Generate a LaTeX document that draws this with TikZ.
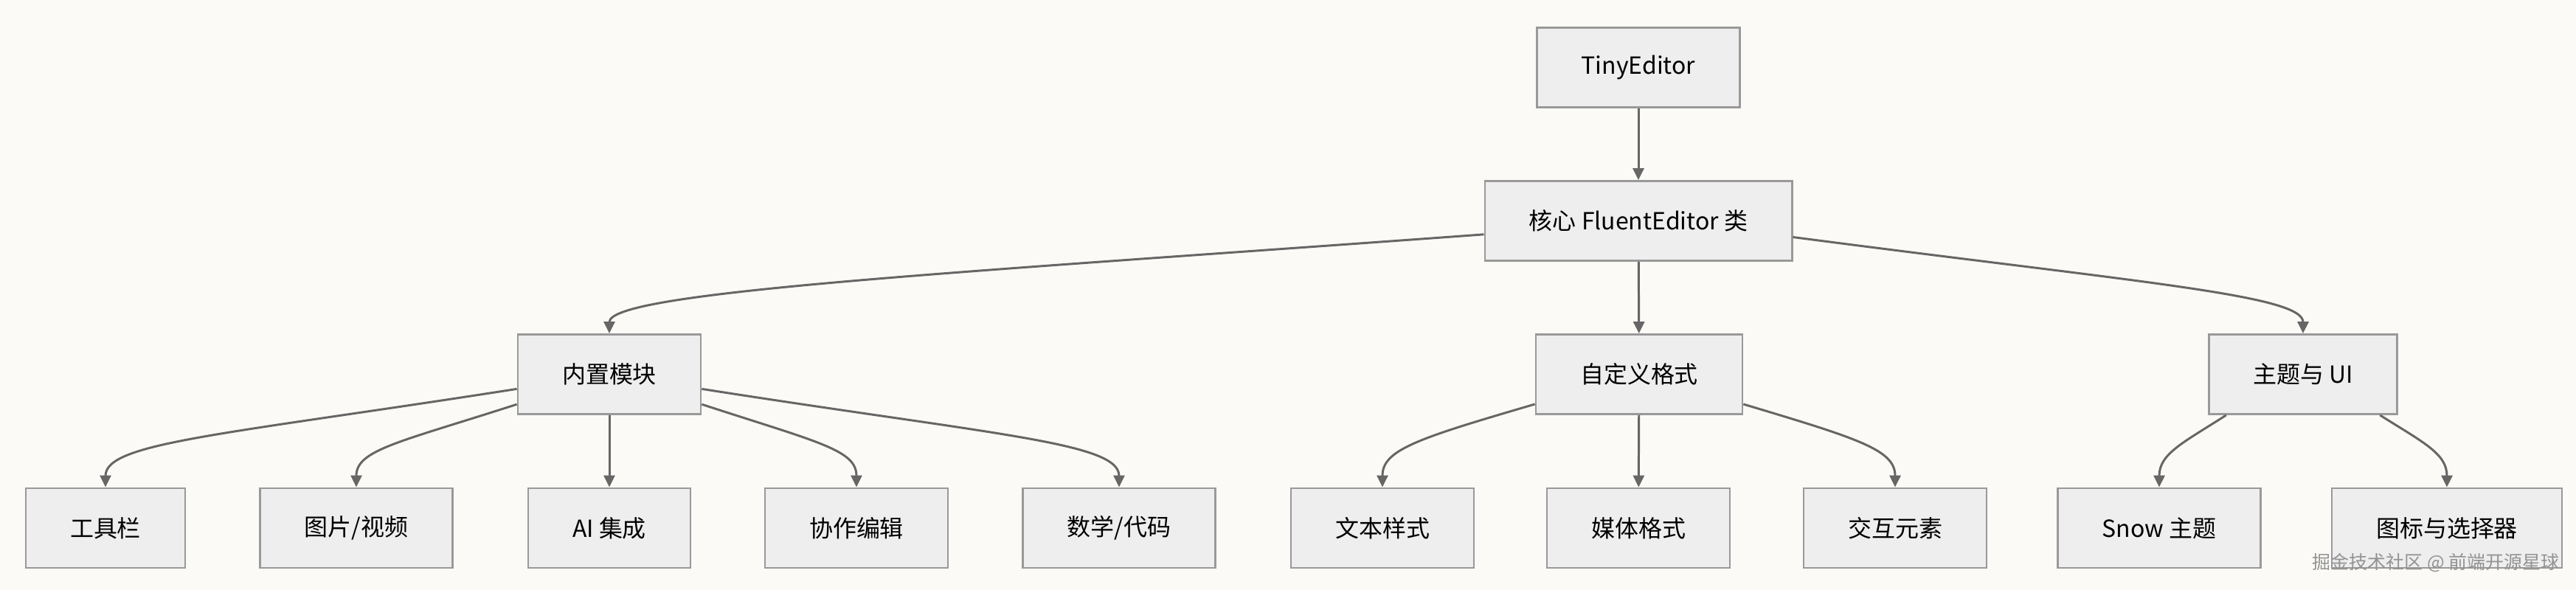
\documentclass[tikz,border=0pt]{standalone}
\usepackage{fontspec}
\newfontfamily\cjk{Noto Sans CJK SC}
\usetikzlibrary{arrows.meta}
\definecolor{canvas}{RGB}{251,250,246}
\definecolor{boxfill}{RGB}{238,238,238}
\definecolor{boxline}{RGB}{153,153,153}
\definecolor{edgeline}{RGB}{102,102,102}

\begin{document}
\begin{tikzpicture}[
  block/.style={draw=boxline, fill=boxfill, line width=0.8pt, minimum height=1.08cm, inner xsep=0.6cm, font=\cjk\fontsize{9.1}{11}\selectfont},
  credit/.style={font=\cjk\fontsize{7.1}{8}\selectfont, text=gray!85},
  arrow/.style={-{Triangle[length=1.6mm,width=1.5mm]}, line width=0.85pt, edgeline}]
\fill[canvas] (0,0) rectangle (34.92,-8);
\useasboundingbox (0,0) rectangle (34.92,-8);
% top levels
\node[block] (top) at (22.21,-0.915) {TinyEditor};
\node[block] (core) at (22.21,-2.995) {核心 FluentEditor 类};
\node[block] (builtin) at (8.26,-5.075) {内置模块};
\node[block] (custom) at (22.22,-5.075) {自定义格式};
\node[block] (theme) at (31.22,-5.075) {主题与 UI};
% leaves
\node[block] (toolbar) at (1.43,-7.16) {工具栏};
\node[block] (media) at (4.83,-7.16) {图片/视频};
\node[block] (ai) at (8.26,-7.16) {AI 集成};
\node[block] (collab) at (11.61,-7.16) {协作编辑};
\node[block] (math) at (15.17,-7.16) {数学/代码};
\node[block] (textstyle) at (18.74,-7.16) {文本样式};
\node[block] (mediafmt) at (22.21,-7.16) {媒体格式};
\node[block] (interact) at (25.69,-7.16) {交互元素};
\node[block] (snow) at (29.27,-7.16) {Snow 主题};
\node[block] (picker) at (33.17,-7.16) {图标与选择器};
\draw[arrow] (top) -- (core);
\draw[arrow] (core.185) .. controls (13.00,-3.70) and (8.26,-3.95) .. (builtin.north);
\draw[arrow] (core) -- (custom);
\draw[arrow] (core.354) .. controls (29.00,-3.83) and (31.22,-4.00) .. (theme.north);
\draw[arrow] (builtin.189) .. controls (3.00,-5.90) and (1.43,-6.00) .. (toolbar.north);
\draw[arrow] (builtin.198) .. controls (5.40,-6.00) and (4.83,-6.10) .. (media.north);
\draw[arrow] (builtin) -- (ai);
\draw[arrow] (builtin.342) .. controls (11.10,-6.00) and (11.61,-6.10) .. (collab.north);
\draw[arrow] (builtin.351) .. controls (13.50,-5.90) and (15.17,-6.00) .. (math.north);
\draw[arrow] (custom.196) .. controls (19.20,-5.95) and (18.74,-6.10) .. (textstyle.north);
\draw[arrow] (custom) -- (mediafmt);
\draw[arrow] (custom.344) .. controls (25.20,-5.95) and (25.69,-6.10) .. (interact.north);
\draw[arrow] (theme.208) .. controls (29.60,-6.00) and (29.27,-6.15) .. (snow.north);
\draw[arrow] (theme.332) .. controls (32.85,-6.00) and (33.17,-6.15) .. (picker.north);
\node[credit] (mark) at (33.02,-7.63) {掘金技术社区 @ 前端开源星球};
\end{tikzpicture}
\end{document}
